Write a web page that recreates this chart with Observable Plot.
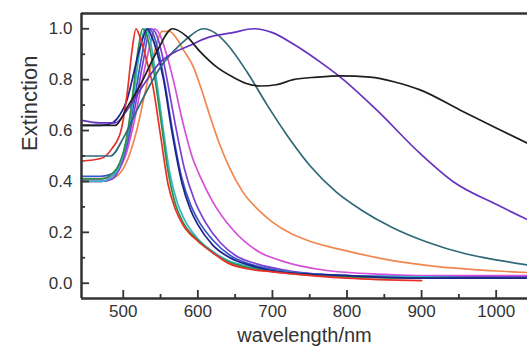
<!DOCTYPE html>
<html><head><meta charset="utf-8">
<script src="https://cdn.jsdelivr.net/npm/d3@7"></script>
<script src="https://cdn.jsdelivr.net/npm/@observablehq/plot@0.6"></script>
<style>html,body{margin:0;padding:0;background:#fff;overflow:hidden} svg{display:block}</style>
</head><body><div id="chart"></div>
<script>
const xDomain = [444, 1042];
const yDomain = [-0.06, 1.06];
const xTicks = [500, 600, 700, 800, 900, 1000];
const xMinor = [550, 650, 750, 850, 950];
const yTicks = [0, 0.2, 0.4, 0.6, 0.8, 1.0];
const yMinor = [0.1, 0.3, 0.5, 0.7, 0.9];
const xLabel = "wavelength/nm";
const yLabel = "Extinction";

const redNm  = [444,470,485,497,505,512,517,522,530,540,550,560,570,580,600,620,640,670,700,800,900];
const redVal = [0.48,0.49,0.53,0.60,0.74,0.92,1.00,0.97,0.89,0.77,0.58,0.39,0.29,0.23,0.165,0.12,0.08,0.055,0.045,0.02,0.01];

const greenNm  = [444,470,485,495,505,513,520,526,532,540,550,560,570,580,600,620,640,670,700,800,900,1000,1042];
const greenVal = [0.41,0.41,0.43,0.47,0.58,0.75,0.92,1.00,0.97,0.85,0.65,0.44,0.31,0.24,0.17,0.12,0.085,0.06,0.045,0.025,0.02,0.02,0.02];

const cyanNm  = [444,470,485,495,505,514,522,529,535,542,552,562,572,582,600,620,640,670,700,800,900,1000,1042];
const cyanVal = [0.40,0.40,0.42,0.46,0.57,0.74,0.91,1.00,0.97,0.85,0.64,0.44,0.32,0.25,0.175,0.125,0.09,0.065,0.05,0.03,0.025,0.02,0.02];

const navyNm  = [444,470,485,495,505,512,520,527,532,538,545,554,565,579,590,600,620,643,670,710,800,900,1000,1042];
const navyVal = [0.62,0.62,0.63,0.66,0.72,0.80,0.90,0.97,1.00,0.97,0.91,0.80,0.60,0.39,0.29,0.23,0.15,0.10,0.07,0.045,0.03,0.02,0.02,0.02];

const blueNm  = [444,470,485,495,505,515,524,534,540,548,556,566,578,590,600,620,643,670,710,800,900,1000,1042];
const blueVal = [0.42,0.42,0.43,0.47,0.56,0.72,0.88,1.00,0.98,0.90,0.78,0.60,0.42,0.31,0.25,0.17,0.11,0.075,0.05,0.03,0.025,0.02,0.02];

const violetNm  = [444,470,485,495,505,515,526,537,544,552,560,570,582,595,610,630,650,680,720,800,900,1000,1042];
const violetVal = [0.40,0.40,0.41,0.45,0.54,0.68,0.86,1.00,0.98,0.90,0.78,0.62,0.45,0.33,0.24,0.16,0.11,0.075,0.05,0.03,0.025,0.025,0.025];

const magentaNm  = [444,470,485,495,505,515,527,537,542,550,558,567,580,592,603,620,647,684,710,773,850,900,1000,1042];
const magentaVal = [0.41,0.41,0.42,0.45,0.52,0.64,0.82,0.95,1.00,0.97,0.90,0.80,0.63,0.50,0.42,0.32,0.21,0.12,0.09,0.05,0.035,0.03,0.03,0.03];

const orangeNm  = [444,470,485,495,505,518,530,542,552,562,572,580,594,605,617,630,643,660,684,700,725,750,795,850,907,1000,1042];
const orangeVal = [0.40,0.40,0.41,0.43,0.48,0.60,0.76,0.91,0.99,0.99,0.96,0.92,0.85,0.76,0.65,0.54,0.45,0.36,0.28,0.24,0.195,0.165,0.13,0.095,0.07,0.048,0.042];

const tealNm  = [444,470,483,500,515,536,550,567,585,607,625,639,666,693,720,751,785,818,860,907,960,1000,1042];
const tealVal = [0.50,0.50,0.50,0.57,0.66,0.78,0.85,0.91,0.96,1.00,0.98,0.94,0.83,0.70,0.58,0.46,0.36,0.29,0.22,0.162,0.115,0.092,0.072];

const blackNm  = [444,470,489,505,523,545,566,585,603,625,647,665,684,705,728,760,791,831,865,898,952,1000,1042];
const blackVal = [0.62,0.62,0.62,0.69,0.78,0.91,1.00,0.97,0.91,0.85,0.81,0.785,0.775,0.78,0.80,0.81,0.815,0.81,0.79,0.76,0.68,0.61,0.55];

const purpleNm  = [444,470,489,505,525,550,570,586,613,647,675,700,728,773,791,840,898,942,1000,1042];
const purpleVal = [0.64,0.63,0.63,0.68,0.77,0.87,0.91,0.93,0.965,0.985,1.00,0.985,0.94,0.85,0.81,0.68,0.51,0.40,0.31,0.25];

const series = [
  {name: "orange",  color: "#f0874e", nm: orangeNm,  val: orangeVal},
  {name: "magenta", color: "#d64fd8", nm: magentaNm, val: magentaVal},
  {name: "violet",  color: "#7b3fd6", nm: violetNm,  val: violetVal},
  {name: "blue",    color: "#3a55c8", nm: blueNm,    val: blueVal},
  {name: "cyan",    color: "#39b5c9", nm: cyanNm,    val: cyanVal},
  {name: "green",   color: "#2e8f48", nm: greenNm,   val: greenVal},
  {name: "navy",    color: "#1c2288", nm: navyNm,    val: navyVal},
  {name: "red",     color: "#e8302a", nm: redNm,     val: redVal},
  {name: "teal",    color: "#2f6878", nm: tealNm,    val: tealVal},
  {name: "purple",  color: "#6633c0", nm: purpleNm,  val: purpleVal},
  {name: "black",   color: "#1e1e1e", nm: blackNm,   val: blackVal}
];

const W = 527, H = 347, mL = 81, mR = 0, mT = 13, mB = 49;
// convert a pixel tick length into data units along each axis
const kx = (xDomain[1] - xDomain[0]) / (W - mL - mR);
const ky = (yDomain[1] - yDomain[0]) / (H - mT - mB);

const lineMarks = series.map(s =>
  Plot.lineY(s.nm.map((n, i) => ({nm: n, ext: s.val[i]})),
    {x: "nm", y: "ext", stroke: s.color, strokeWidth: 1.7, curve: "monotone-x"})
);

const axisColor = "#333";
const chart = Plot.plot({
  width: W,
  height: H,
  marginLeft: mL,
  marginRight: mR,
  marginTop: mT,
  marginBottom: mB,
  style: {fontFamily: "'Liberation Sans', Arial, sans-serif", fontSize: "17px", color: "#333", background: "#fff"},
  x: {domain: xDomain, label: null},
  y: {domain: yDomain, label: null},
  marks: [
    ...lineMarks,
    Plot.ruleY([yDomain[0]], {stroke: axisColor, strokeWidth: 2.5}),
    Plot.ruleY([yDomain[1]], {stroke: axisColor, strokeWidth: 2.5}),
    Plot.ruleX([xDomain[0]], {stroke: axisColor, strokeWidth: 2.5}),
    Plot.ruleX(xTicks, {x: d => d, y1: yDomain[0], y2: yDomain[0] + 8 * ky, stroke: axisColor, strokeWidth: 1.8}),
    Plot.ruleX(xMinor, {x: d => d, y1: yDomain[0], y2: yDomain[0] + 4 * ky, stroke: axisColor, strokeWidth: 1.8}),
    Plot.ruleY(yTicks, {y: d => d, x1: xDomain[0], x2: xDomain[0] + 8 * kx, stroke: axisColor, strokeWidth: 1.8}),
    Plot.ruleY(yMinor, {y: d => d, x1: xDomain[0], x2: xDomain[0] + 4 * kx, stroke: axisColor, strokeWidth: 1.8}),
    Plot.axisX({ticks: xTicks, tickSize: 0, tickPadding: 6, tickFormat: d3.format("d"), label: null, fontSize: 17, fill: "#333"}),
    Plot.axisY({ticks: yTicks, tickSize: 0, tickPadding: 9, tickFormat: d3.format(".1f"), label: null, fontSize: 17, fill: "#333"}),
    Plot.text([xLabel], {frameAnchor: "bottom", dy: 37, text: d => d, fontSize: 20, fill: "#333", lineAnchor: "middle"}),
    Plot.text([yLabel], {frameAnchor: "left", dx: -52, dy: -5, rotate: -90, text: d => d, fontSize: 22, fill: "#333", lineAnchor: "middle"})
  ]
});
document.getElementById("chart").appendChild(chart);
</script>
</body></html>
